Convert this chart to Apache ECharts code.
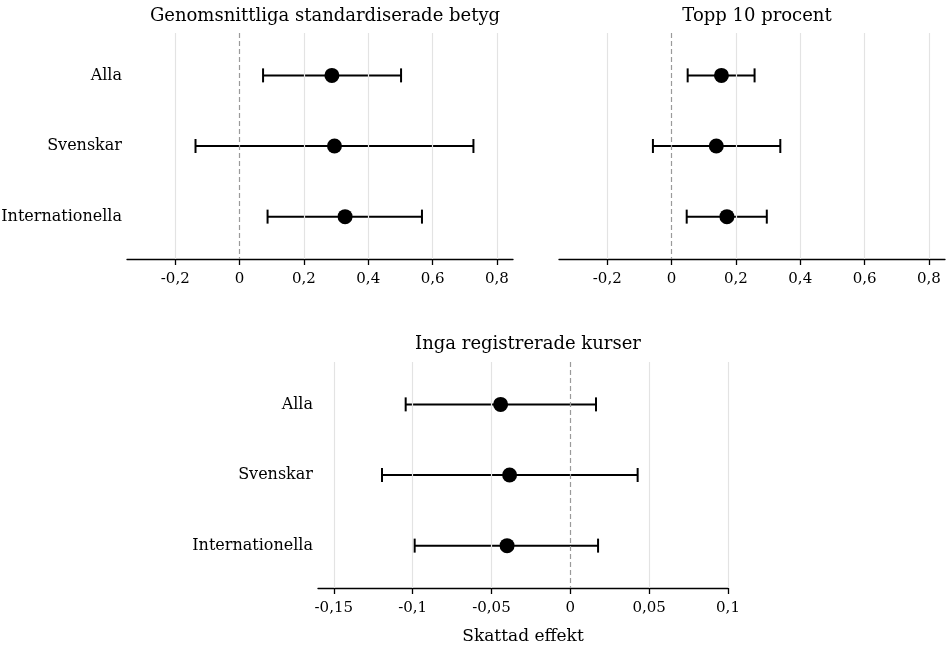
<!DOCTYPE html>
<html>
<head>
<meta charset="utf-8">
<script src="https://cdn.jsdelivr.net/npm/echarts@6/dist/echarts.min.js"></script>
<style>
  html, body { margin: 0; padding: 0; background: #fff; }
  #chart { width: 949px; height: 648px; }
</style>
</head>
<body>
<div id="chart"></div>
<script>
const categories = ['Alla', 'Svenskar', 'Internationella']

const gradesEst = [0.287, 0.295, 0.328]
const gradesLow = [0.073, -0.137, 0.087]
const gradesHigh = [0.502, 0.727, 0.567]

const top10Est = [0.155, 0.139, 0.172]
const top10Low = [0.050, -0.058, 0.047]
const top10High = [0.258, 0.338, 0.296]

const noCourseEst = [-0.0442, -0.0385, -0.0401]
const noCourseLow = [-0.1044, -0.1194, -0.0987]
const noCourseHigh = [0.0163, 0.0427, 0.0176]

const topTicks = [-0.2, 0, 0.2, 0.4, 0.6, 0.8]
const bottomTicks = [-0.15, -0.1, -0.05, 0, 0.05, 0.1]

const titles = ['Genomsnittliga standardiserade betyg', 'Topp 10 procent', 'Inga registrerade kurser']

const FONT = 'DejaVu Serif'
const catPos = [1, 2, 3]

const fmtNum = function(v) {
	return String(v).replace('.', ',')
}

const makeXAxis = function(idx, min, max, ticks, name) {
	return {
		type: 'value',
		gridIndex: idx,
		min: min,
		max: max,
		name: name || '',
		nameLocation: 'middle',
		nameGap: 40,
		nameTextStyle: { fontFamily: FONT, fontSize: 17, color: '#000' },
		axisLine: { show: true, onZero: false, lineStyle: { color: '#000', width: 1.3 } },
		axisTick: { show: true, customValues: ticks, length: 6, lineStyle: { color: '#000', width: 1.3 } },
		axisLabel: { show: true, customValues: ticks, margin: 13, formatter: fmtNum, fontFamily: FONT, fontSize: 15, color: '#000' },
		splitLine: { show: false }
	}
}

const makeYAxis = function(idx, showLabels) {
	return {
		type: 'value',
		gridIndex: idx,
		min: 0.4,
		max: 3.6,
		inverse: true,
		axisLine: { show: false },
		axisTick: { show: false },
		splitLine: { show: false },
		axisLabel: {
			show: showLabels,
			customValues: catPos,
			margin: 5,
			formatter: function(v) { return categories[Math.round(v) - 1] },
			fontFamily: FONT,
			fontSize: 16,
			color: '#000'
		}
	}
}

const errorSeries = function(idx, low, high, ticks) {
	const data = categories.map(function(c, i) { return [catPos[i], low[i], high[i]] })
	return {
		type: 'custom',
		xAxisIndex: idx,
		yAxisIndex: idx,
		data: data,
		z: 3,
		silent: true,
		renderItem: function(params, api) {
			const y = api.value(0)
			const a = api.coord([api.value(1), y])
			const b = api.coord([api.value(2), y])
			const st = { stroke: '#000', lineWidth: 2 }
			return {
				type: 'group',
				children: [
					{ type: 'line', shape: { x1: a[0], y1: a[1], x2: b[0], y2: b[1] }, style: st },
					{ type: 'line', shape: { x1: a[0], y1: a[1] - 7, x2: a[0], y2: a[1] + 7 }, style: st },
					{ type: 'line', shape: { x1: b[0], y1: b[1] - 7, x2: b[0], y2: b[1] + 7 }, style: st }
				]
			}
		},
		markLine: {
			silent: true,
			symbol: ['none', 'none'],
			label: { show: false },
			animation: false,
			data: ticks.map(function(t) {
				return t === 0
					? { xAxis: t, lineStyle: { color: '#9a9a9a', type: [5, 3], width: 1.2 } }
					: { xAxis: t, lineStyle: { color: '#e3e3e3', type: 'solid', width: 1.2 } }
			})
		}
	}
}

const pointSeries = function(idx, est) {
	return {
		type: 'scatter',
		xAxisIndex: idx,
		yAxisIndex: idx,
		symbol: 'circle',
		symbolSize: 15,
		itemStyle: { color: '#000', opacity: 1 },
		z: 4,
		data: est.map(function(v, i) { return [v, catPos[i]] })
	}
}

const titleStyle = { fontFamily: FONT, fontSize: 18, fontWeight: 'normal', color: '#000' }

const chart = echarts.init(document.getElementById('chart'))
chart.setOption({
	backgroundColor: '#fff',
	animation: false,
	title: [
		{ text: titles[0], left: 320, top: 2, textAlign: 'center', textStyle: titleStyle },
		{ text: titles[1], left: 752, top: 2, textAlign: 'center', textStyle: titleStyle },
		{ text: titles[2], left: 523, top: 330, textAlign: 'center', textStyle: titleStyle }
	],
	grid: [
		{ left: 127, width: 386, top: 33, height: 226, outerBoundsMode: 'none' },
		{ left: 559, width: 386, top: 33, height: 226, outerBoundsMode: 'none' },
		{ left: 318, width: 410, top: 362, height: 226, outerBoundsMode: 'none' }
	],
	xAxis: [
		makeXAxis(0, -0.35, 0.85, topTicks),
		makeXAxis(1, -0.35, 0.85, topTicks),
		makeXAxis(2, -0.16, 0.1, bottomTicks, 'Skattad effekt')
	],
	yAxis: [makeYAxis(0, true), makeYAxis(1, false), makeYAxis(2, true)],
	series: [
		errorSeries(0, gradesLow, gradesHigh, topTicks),
		pointSeries(0, gradesEst),
		errorSeries(1, top10Low, top10High, topTicks),
		pointSeries(1, top10Est),
		errorSeries(2, noCourseLow, noCourseHigh, bottomTicks),
		pointSeries(2, noCourseEst)
	]
})
</script>
</body>
</html>
